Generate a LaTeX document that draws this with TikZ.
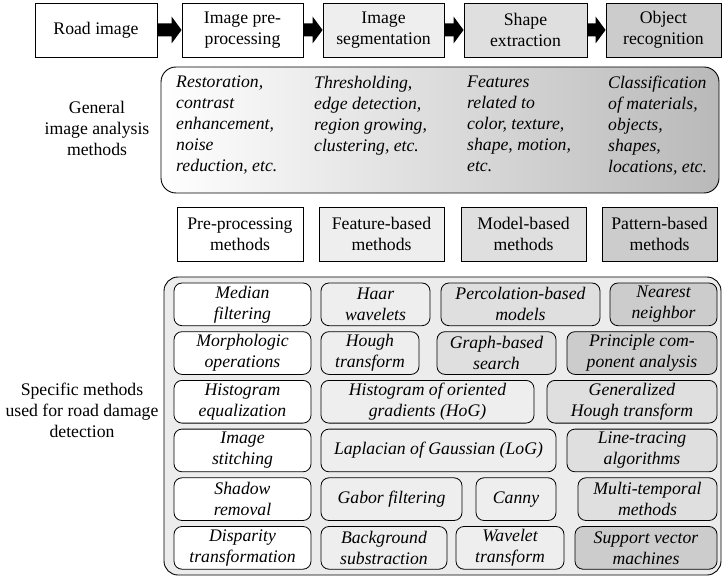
\documentclass[tikz,border=0pt]{standalone}
\usepackage{fontspec}
\setmainfont{Liberation Serif}
\usetikzlibrary{calc}
\newcommand\fs{\fontsize{17.7}{21}\selectfont}
\definecolor{cA}{gray}{1}
\definecolor{cB}{gray}{0.935}
\definecolor{cC}{gray}{0.875}
\definecolor{cD}{gray}{0.80}
\definecolor{cOut}{gray}{0.925}
\tikzset{
  sbox/.style={draw, line width=0.9pt, align=center, inner sep=0pt, font=\fs},
  ibox/.style={draw, line width=0.8pt, rounded corners=8pt, align=center, inner sep=0pt, font=\fs\itshape},
  coltext/.style={align=left, inner sep=0pt, anchor=north west, font=\fs\itshape},
  lbl/.style={align=center, inner sep=0pt, font=\fs},
}
\newcommand\bx[8]{\node[#2, fill=#8, minimum width=#5pt, minimum height=#6pt] (#1) at (#3,#4) {#7};}
\newcommand\arr[2]{\fill ($(#1.east)+(0,-6.5)$) -- ($(#2.west)+(-10,-6.5)$) -- ($(#2.west)+(-10,-13.5)$) -- (#2.west) -- ($(#2.west)+(-10,13.5)$) -- ($(#2.west)+(-10,6.5)$) -- ($(#1.east)+(0,6.5)$) -- cycle;}
\begin{document}
\begin{tikzpicture}[x=1pt,y=-1pt]
\useasboundingbox (0,0) rectangle (723,580);
% top row
\bx{road}{sbox}{96}{30}{122}{54}{Road image}{cA}
\bx{pre}{sbox}{242.5}{30}{121}{54}{Image pre-\\processing}{cA}
\bx{seg}{sbox}{383.5}{30}{121}{54}{Image\\segmentation}{cB}
\bx{shp}{sbox}{525.5}{30}{123}{54}{Shape\\extraction}{cC}
\bx{obj}{sbox}{663.5}{30}{115}{54}{Object\\recognition}{cD}
\arr{road}{pre}
\arr{pre}{seg}
\arr{seg}{shp}
\arr{shp}{obj}
% general box
\node[draw, line width=0.9pt, rounded corners=15pt, left color=white, right color=gray!55, minimum width=558pt, minimum height=126pt, inner sep=0pt] (gen) at (440,130) {};
\node[coltext] (g1) at (176,76) {Restoration,\\contrast\\enhancement,\\noise\\reduction, etc.};
\node[coltext] (g2) at (314,76) {Thresholding,\\edge detection,\\region growing,\\clustering, etc.};
\node[coltext] (g3) at (467,76) {Features\\related to\\color, texture,\\shape, motion,\\etc.};
\node[coltext] (g4) at (608,76) {Classification\\of materials,\\objects,\\shapes,\\locations, etc.};
\node[lbl] (lgen) at (97,128) {General\\image analysis\\methods};
% second row
\bx{pp}{sbox}{240}{234}{126}{54}{Pre-processing\\methods}{cA}
\bx{fb}{sbox}{381.5}{234}{125}{54}{Feature-based\\methods}{cB}
\bx{mb}{sbox}{523.5}{234}{125}{54}{Model-based\\methods}{cC}
\bx{pb}{sbox}{659.5}{234}{115}{54}{Pattern-based\\methods}{cD}
% lower box
\node[draw, line width=0.9pt, rounded corners=14pt, fill=cOut, minimum width=557pt, minimum height=298pt, inner sep=0pt] (low) at (442.5,426) {};
\node[lbl] (lspec) at (82,410) {Specific methods\\used for road damage\\detection};
% row 1
\bx{med}{ibox}{242.5}{304.35}{137}{42.7}{Median\\filtering}{cA}
\bx{haar}{ibox}{375.5}{304.35}{109}{42.7}{Haar\\wavelets}{cB}
\bx{perc}{ibox}{520.5}{304.35}{159}{42.7}{Percolation-based\\models}{cC}
\bx{nn}{ibox}{663.5}{304.35}{107}{42.7}{Nearest\\neighbor}{cD}
% row 2
\bx{morph}{ibox}{242.5}{353.05}{137}{42.7}{Morphologic\\operations}{cA}
\bx{hough}{ibox}{370}{353.05}{98}{42.7}{Hough\\transform}{cB}
\bx{graph}{ibox}{496.5}{353.05}{119}{42.7}{Graph-based\\search}{cC}
\bx{pca}{ibox}{642}{353.05}{150}{42.7}{Principle com-\\ponent analysis}{cD}
% row 3
\bx{hist}{ibox}{242.5}{401.75}{137}{42.7}{Histogram\\equalization}{cA}
\bx{hog}{ibox}{427.5}{401.75}{213}{42.7}{Histogram of oriented\\gradients (HoG)}{cB}
\bx{ght}{ibox}{632}{401.75}{170}{42.7}{Generalized\\Hough transform}{cC}
% row 4
\bx{stitch}{ibox}{242.5}{450.45}{137}{42.7}{Image\\stitching}{cA}
\bx{logf}{ibox}{438.5}{450.45}{235}{42.7}{Laplacian of Gaussian (LoG)}{cB}
\bx{line}{ibox}{642}{450.45}{150}{42.7}{Line-tracing\\algorithms}{cC}
% row 5
\bx{shadow}{ibox}{242.5}{499.15}{137}{42.7}{Shadow\\removal}{cA}
\bx{gabor}{ibox}{391.5}{499.15}{141}{42.7}{Gabor filtering}{cB}
\bx{canny}{ibox}{516}{499.15}{80}{42.7}{Canny}{cB}
\bx{multi}{ibox}{647.5}{499.15}{139}{42.7}{Multi-temporal\\methods}{cC}
% row 6
\bx{disp}{ibox}{242.5}{547.85}{137}{42.7}{Disparity\\transformation}{cA}
\bx{bg}{ibox}{384}{547.85}{126}{42.7}{Background\\substraction}{cB}
\bx{wav}{ibox}{510}{547.85}{108}{42.7}{Wavelet\\transform}{cB}
\bx{svm}{ibox}{646}{547.85}{142}{42.7}{Support vector\\machines}{cD}
\end{tikzpicture}
\end{document}
